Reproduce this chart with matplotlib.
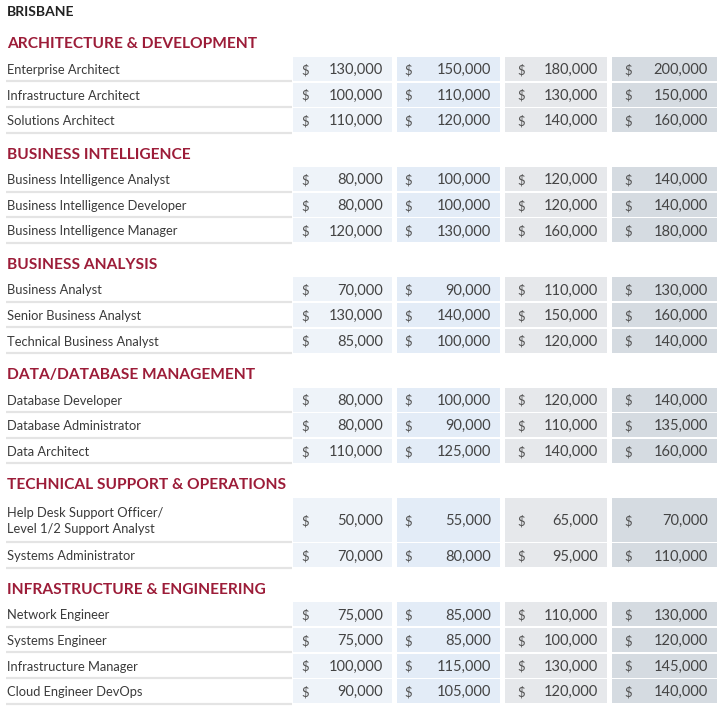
import matplotlib.pyplot as plt
from matplotlib.patches import Rectangle

plt.rcParams['font.family'] = ['Lato', 'DejaVu Sans']

city = 'BRISBANE'

sections = [
    'ARCHITECTURE & DEVELOPMENT',
    'BUSINESS INTELLIGENCE',
    'BUSINESS ANALYSIS',
    'DATA/DATABASE MANAGEMENT',
    'TECHNICAL SUPPORT & OPERATIONS',
    'INFRASTRUCTURE & ENGINEERING',
]

roles = [
    ['Enterprise Architect', 'Infrastructure Architect', 'Solutions Architect'],
    ['Business Intelligence Analyst', 'Business Intelligence Developer', 'Business Intelligence Manager'],
    ['Business Analyst', 'Senior Business Analyst', 'Technical Business Analyst'],
    ['Database Developer', 'Database Administrator', 'Data Architect'],
    ['Help Desk Support Officer/\nLevel 1/2 Support Analyst', 'Systems Administrator'],
    ['Network Engineer', 'Systems Engineer', 'Infrastructure Manager', 'Cloud Engineer DevOps'],
]

# four salary columns per role
salaries = [
    [[130000, 150000, 180000, 200000],
     [100000, 110000, 130000, 150000],
     [110000, 120000, 140000, 160000]],
    [[80000, 100000, 120000, 140000],
     [80000, 100000, 120000, 140000],
     [120000, 130000, 160000, 180000]],
    [[70000, 90000, 110000, 130000],
     [130000, 140000, 150000, 160000],
     [85000, 100000, 120000, 140000]],
    [[80000, 100000, 120000, 140000],
     [80000, 90000, 110000, 135000],
     [110000, 125000, 140000, 160000]],
    [[50000, 55000, 65000, 70000],
     [70000, 80000, 95000, 110000]],
    [[75000, 85000, 110000, 130000],
     [75000, 85000, 100000, 120000],
     [100000, 115000, 130000, 145000],
     [90000, 105000, 120000, 140000]],
]

# layout (pixels)
W, H = 726, 715
col_x = [(293, 392), (397, 500), (505, 607), (612, 717)]
col_fill = ['#eef3f9', '#e3ecf7', '#e6e8eb', '#d5dbe1']
dollar_off = [12, 11, 16, 16]
label_x0, label_x1 = 6, 292
red = '#9c1c38'
text_c = '#3a3a3a'

fig = plt.figure(figsize=(W / 100, H / 100), dpi=100)
ax = fig.add_axes([0, 0, 1, 1])
ax.set_xlim(0, W)
ax.set_ylim(H, 0)
ax.axis('off')

ax.text(7, 11.5, city, fontsize=10, fontweight='bold', color='#222222', va='center', ha='left')

hy = 43
for sec, names, vals in zip(sections, roles, salaries):
    ax.text(7, hy + 1.5, sec, fontsize=11.2, fontweight='bold', color=red, va='center', ha='left')
    top = hy + 14
    for name, row in zip(names, vals):
        h = 44 if '\n' in name else 24
        cy = top + h / 2 + 1
        ax.plot([label_x0, label_x1], [top + h + 0.3, top + h + 0.3], color='#e4e4e4', lw=1.6,
                solid_capstyle='butt')
        ax.text(label_x0 + 1, cy, name, fontsize=9.3, color=text_c, va='center', ha='left',
                linespacing=1.45)
        for j, v in enumerate(row):
            x0, x1 = col_x[j]
            ax.add_patch(Rectangle((x0, top), x1 - x0, h, facecolor=col_fill[j], edgecolor='none'))
            ax.text(x0 + dollar_off[j], cy, '$', fontsize=9.5, color='#555555', va='center', ha='center')
            ax.text(x1 - 9, cy, f'{v:,}', fontsize=10.5, color='#444444', va='center', ha='right')
        top += h + 1.6
    hy = top - 1.6 + 21

fig.savefig('out.png', dpi=100)
